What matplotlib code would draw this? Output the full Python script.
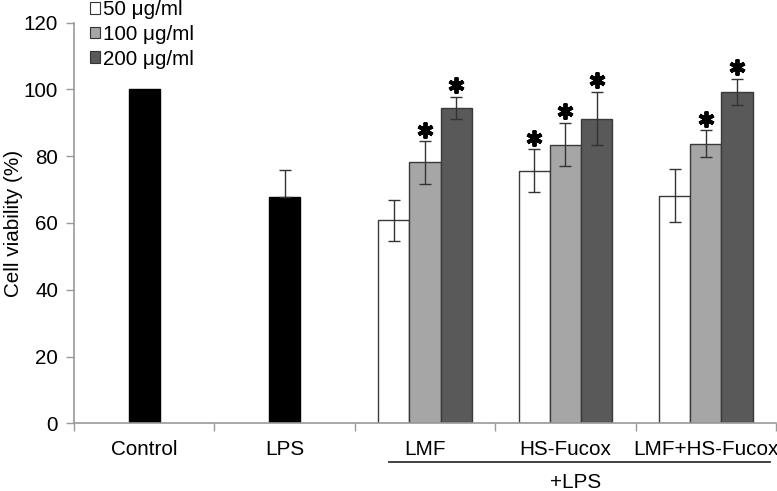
import matplotlib
matplotlib.use("Agg")
import matplotlib.pyplot as plt
from matplotlib.patches import Patch
import numpy as np

plt.rcParams['font.family'] = ['Liberation Sans', 'DejaVu Sans']

categories = ["Control", "LPS", "LMF", "HS-Fucox", "LMF+HS-Fucox"]
single_values = [100.0, 67.9]
single_err = [0.0, 8.0]
doses = ["50 \u03bcg/ml", "100 \u03bcg/ml", "200 \u03bcg/ml"]
vals_50 = [60.8, 75.7, 68.2]
err_50 = [6.1, 6.5, 7.9]
vals_100 = [78.2, 83.5, 83.8]
err_100 = [6.4, 6.5, 4.0]
vals_200 = [94.5, 91.3, 99.2]
err_200 = [3.3, 8.0, 4.0]
sig_50 = [False, True, False]
sig_100 = [True, True, True]
sig_200 = [True, True, True]
yticks = [0, 20, 40, 60, 80, 100, 120]

colors = ["#ffffff", "#a6a6a6", "#595959"]
edge = "#3a3a3a"
axis_col = "#9a9a9a"
fs = 14.9

fig = plt.figure(figsize=(7.77, 4.91), dpi=100)
L, R, B, T = 74/777, 776/777, 1-423.3/491, 1-22.7/491
ax = fig.add_axes([L, B, R-L, T-B])

w = 0.222
x = np.arange(len(categories))
# single bars
ax.bar(x[:2], single_values, width=w, color="black", edgecolor="black", lw=1, zorder=2)
ax.errorbar(x[1:2], single_values[1:2], yerr=[[0], single_err[1:2]], fmt="none",
            ecolor="#333333", elinewidth=1, capsize=4.5, capthick=1, zorder=3)

gx = x[2:]
groups = [(vals_50, err_50, sig_50), (vals_100, err_100, sig_100), (vals_200, err_200, sig_200)]
for i, (v, e, s) in enumerate(groups):
    xs = gx + (i - 1) * w
    ax.bar(xs, v, width=w, color=colors[i], edgecolor=edge, lw=1, zorder=2)
    ax.errorbar(xs, v, yerr=e, fmt="none", ecolor="#333333", elinewidth=1,
                capsize=4.5, capthick=1, zorder=3)
    for xi, vi, ei, si in zip(xs, v, e, s):
        if si:
            ax.plot(xi, vi + ei + 3.4, marker=(6, 2, 0), ms=11.5, mew=2.8,
                    color="black", zorder=4, clip_on=False)

ax.set_xlim(-0.5, 4.5)
ax.set_ylim(0, 120)
ax.set_yticks(yticks)
ax.set_yticklabels([str(t) for t in yticks], fontsize=fs)
ax.set_xticks(x)
ax.set_xticklabels(categories, fontsize=fs)
ax.set_xticks(np.arange(-0.5, 5.0, 1.0), minor=True)
ax.tick_params(axis="x", which="major", length=0, pad=12)
ax.tick_params(axis="x", which="minor", length=6, color=axis_col, width=1)
ax.tick_params(axis="y", length=5.5, color=axis_col, width=1, pad=6)
for sp in ["top", "right"]:
    ax.spines[sp].set_visible(False)
for sp in ["left", "bottom"]:
    ax.spines[sp].set_color(axis_col)
    ax.spines[sp].set_linewidth(1.2)

ax.set_ylabel("Cell viability (%)", fontsize=fs)
ax.yaxis.set_label_coords(-0.0726, 0.5)

# +LPS bracket
xt = ax.get_xaxis_transform()
ax.plot([1.743, 4.457], [-0.097, -0.097], transform=xt, color="#333333", lw=1.3, clip_on=False)
ax.text(3.075, -0.147, "+LPS", transform=xt, ha="center", va="center", fontsize=fs)

handles = [Patch(facecolor=c, edgecolor="#333333", lw=0.8) for c in colors]
fig.legend(handles, doses, loc="upper left", bbox_to_anchor=(90/777, 1.0),
           frameon=False, fontsize=fs, handlelength=0.5, handleheight=0.5,
           handletextpad=0.15, labelspacing=0.28, borderpad=0.0, borderaxespad=0)

fig.savefig("out.png", dpi=100)
